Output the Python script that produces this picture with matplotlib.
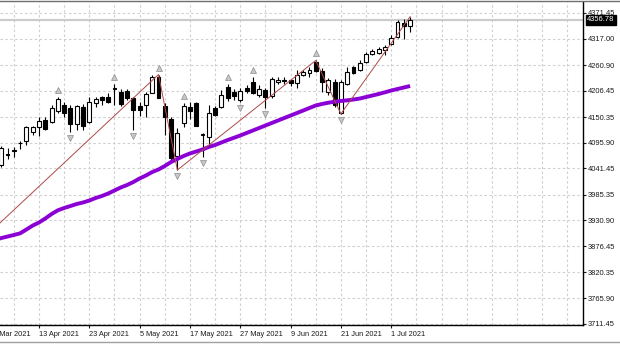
import matplotlib
matplotlib.use("Agg")
import matplotlib.pyplot as plt
import matplotlib.transforms as mtransforms
from matplotlib.lines import Line2D

plt.rcParams['font.family'] = ['Liberation Sans', 'DejaVu Sans']

# ---------------- data (bar index 0 = 13 Apr 2021) ----------------
bar_idx = list(range(-6, 60))
opens = [4048.6, 4072.0, 4079.4, 4094.3, 4099.6, 4119.3, 4129.9, 4144.2, 4140.6, 4163.3,
         4176.7, 4170.3, 4135.7, 4171.8, 4140.6, 4180.9, 4193.0, 4193.7, 4211.0, 4202.6,
         4205.8, 4189.9, 4173.9, 4176.7, 4202.2, 4236.1, 4173.9, 4145.7, 4067.7, 4138.4,
         4171.8, 4180.9, 4111.7, 4109.1, 4169.0, 4171.8, 4214.3, 4204.3, 4186.0, 4211.5,
         4224.3, 4197.9, 4207.9, 4195.2, 4225.5, 4228.1, 4228.1, 4222.1, 4239.8, 4244.0,
         4266.9, 4248.9, 4204.3, 4225.5, 4158.4, 4220.6, 4257.4, 4250.4, 4268.0, 4284.4,
         4285.9, 4293.5, 4305.6, 4320.5, 4350.8, 4343.4]
highs = [4089.0, 4084.7, 4086.8, 4099.6, 4132.1, 4132.1, 4149.5, 4151.6, 4176.0, 4192.4,
         4183.1, 4176.0, 4177.1, 4178.2, 4193.7, 4193.7, 4194.1, 4200.9, 4220.6, 4209.0,
         4209.4, 4193.7, 4183.1, 4202.6, 4239.8, 4240.8, 4179.7, 4151.6, 4127.2, 4180.3,
         4182.4, 4182.4, 4115.9, 4175.0, 4173.9, 4208.6, 4220.6, 4209.4, 4212.6, 4218.5,
         4235.5, 4218.5, 4211.5, 4235.5, 4234.9, 4236.1, 4232.3, 4250.4, 4251.4, 4255.7,
         4270.6, 4253.6, 4232.8, 4230.6, 4228.1, 4257.4, 4258.9, 4271.6, 4289.3, 4294.3,
         4299.9, 4303.5, 4324.7, 4356.5, 4358.7, 4363.6]
lows = [4044.4, 4061.3, 4065.6, 4082.6, 4091.1, 4112.3, 4110.2, 4122.9, 4138.4, 4159.0,
        4151.2, 4119.3, 4124.0, 4124.0, 4138.4, 4172.4, 4175.0, 4180.3, 4176.0, 4173.9,
        4186.7, 4124.0, 4152.7, 4149.5, 4200.9, 4190.3, 4112.3, 4056.0, 4038.0, 4129.3,
        4146.3, 4130.4, 4065.6, 4091.1, 4152.7, 4169.7, 4184.5, 4186.7, 4182.4, 4200.9,
        4199.4, 4193.7, 4170.7, 4190.9, 4220.6, 4220.6, 4216.4, 4211.5, 4237.6, 4236.2,
        4246.1, 4204.3, 4197.3, 4172.4, 4157.3, 4217.5, 4241.9, 4248.9, 4266.3, 4282.2,
        4284.4, 4282.2, 4303.5, 4318.4, 4315.2, 4331.8]
closes = [4084.1, 4070.9, 4080.5, 4096.4, 4129.3, 4129.9, 4142.1, 4126.1, 4169.0, 4188.2,
          4160.1, 4135.7, 4173.3, 4132.5, 4181.8, 4188.4, 4187.7, 4183.1, 4211.5, 4178.8,
          4190.9, 4165.4, 4165.4, 4199.4, 4234.9, 4191.3, 4151.6, 4063.5, 4115.9, 4173.9,
          4163.9, 4132.5, 4114.4, 4158.0, 4154.8, 4197.3, 4189.9, 4195.2, 4206.4, 4205.8,
          4200.9, 4209.4, 4192.4, 4230.6, 4229.1, 4227.7, 4223.4, 4239.8, 4246.8, 4250.4,
          4247.8, 4225.5, 4228.1, 4175.0, 4225.5, 4246.8, 4244.4, 4265.9, 4284.4, 4290.3,
          4294.3, 4299.9, 4319.4, 4352.9, 4343.8, 4356.78]

ma_idx = list(range(-7, 60))
ma_vals = [3889.3, 3893.5, 3896.7, 3900.0, 3903.5, 3911.6, 3920.0, 3926.5, 3935.0, 3944.5,
           3952.4, 3957.3, 3961.5, 3965.8, 3969.0, 3973.2, 3978.5, 3982.8, 3988.1, 3994.5,
           4000.9, 4006.1, 4012.5, 4020.0, 4026.3, 4033.7, 4039.1, 4046.5, 4055.0, 4061.4,
           4067.8, 4073.1, 4077.3, 4081.6, 4086.9, 4091.1, 4096.4, 4101.7, 4106.4, 4111.3,
           4116.6, 4121.9, 4127.2, 4132.5, 4137.8, 4143.1, 4148.4, 4153.7, 4159.0, 4164.3,
           4169.7, 4175.0, 4178.2, 4180.9, 4183.1, 4184.6, 4186.0, 4187.7, 4189.8, 4193.0,
           4196.2, 4199.4, 4203.0, 4206.8, 4210.0, 4213.2, 4216.4]

zz_idx = [-12, 19, 22, 44, 48, 59]
zz_vals = [3853.0, 4240.8, 4038.0, 4270.6, 4157.3, 4363.6]

frac_up_idx = [3, 12, 19, 23, 30, 34, 44]
frac_dn_idx = [5, 15, 22, 26, 32, 36, 48]

price_ticks = [4371.45, 4317.00, 4260.90, 4206.45, 4150.35, 4095.90, 4041.45,
               3985.35, 3930.90, 3876.45, 3820.35, 3765.90, 3711.45]
price_labels = ["4371.45", "4317.00", "4260.90", "4206.45", "4150.35", "4095.90", "4041.45",
                "3985.35", "3930.90", "3876.45", "3820.35", "3765.90", "3711.45"]

date_idx = [-8, 0, 8, 16, 24, 32, 40, 48, 56]
date_labels = ["31 Mar 2021", "13 Apr 2021", "23 Apr 2021", "5 May 2021", "17 May 2021",
               "27 May 2021", "9 Jun 2021", "21 Jun 2021", "1 Jul 2021"]

last_price = 4356.78

# ---------------- figure ----------------
W, H = 620, 345
fig = plt.figure(figsize=(W / 100, H / 100), dpi=100)
fig.patch.set_facecolor("white")
ax = fig.add_axes([0, 20 / H, 583 / W, 323 / H])
ax.set_facecolor("white")
ax.set_xlim(-6.2, 86.49)
ax.set_ylim(3708.8, 4394.8)

for s in ("left", "top"):
    ax.spines[s].set_visible(False)
for s in ("right", "bottom"):
    ax.spines[s].set_color("black")
    ax.spines[s].set_linewidth(1.0)

grid_kw = dict(color="#cfcfcf", lw=0.8, linestyle=(0, (2.2, 2.2)), zorder=0)
for p in price_ticks:
    ax.axhline(p, **grid_kw)
for gx in range(-4, 88, 4):
    ax.axvline(gx, **grid_kw)

# last price line
ax.axhline(last_price, color="#cccccc", lw=1.6, zorder=1)

# candles
tick_col = "#1a1a1a"
ax.vlines(bar_idx, lows, highs, color="black", lw=0.8, zorder=3)
bottoms = [min(o, c) for o, c in zip(opens, closes)]
heights = [max(abs(c - o), 0.4) for o, c in zip(opens, closes)]
faces = ["white" if c >= o else "black" for o, c in zip(opens, closes)]
ax.bar(bar_idx, heights, bottom=bottoms, width=0.62, color=faces,
       edgecolor="black", linewidth=0.8, zorder=4)

# moving average
ax.plot(ma_idx, ma_vals, color="#8b00d4", lw=2.8, zorder=5, solid_capstyle="butt")

# zigzag
ax.plot(zz_idx, zz_vals, color="#b04848", lw=0.7, zorder=6)

# fractals
hi_map = dict(zip(bar_idx, highs))
lo_map = dict(zip(bar_idx, lows))
up_tr = ax.transData + mtransforms.ScaledTranslation(0, 7 / 100, fig.dpi_scale_trans)
dn_tr = ax.transData + mtransforms.ScaledTranslation(0, -6 / 100, fig.dpi_scale_trans)
ax.plot(frac_up_idx, [hi_map[i] for i in frac_up_idx], linestyle="none", marker="^",
        ms=4.0, mfc="#c8c8c8", mec="#8c8c8c", mew=0.5, transform=up_tr, zorder=7)
ax.plot(frac_dn_idx, [lo_map[i] for i in frac_dn_idx], linestyle="none", marker="v",
        ms=4.0, mfc="#c8c8c8", mec="#8c8c8c", mew=0.5, transform=dn_tr, zorder=7)

# y axis on right
ax.yaxis.tick_right()
ax.set_yticks(price_ticks)
ax.set_yticklabels(price_labels)
ax.tick_params(axis="y", direction="out", length=2.5, width=0.8, pad=1.2,
               labelsize=5.4, colors=tick_col)

# x axis
ax.set_xticks(date_idx[1:])
ax.set_xticklabels(date_labels[1:])
ax.tick_params(axis="x", direction="out", length=2.5, width=0.8, pad=1.5,
               labelsize=5.3, colors=tick_col)
for lbl in ax.get_xticklabels():
    lbl.set_horizontalalignment("left")
ax.annotate(date_labels[0], xy=(date_idx[0], 0), xycoords=ax.get_xaxis_transform(),
            xytext=(0, -4.0), textcoords="offset points", ha="left", va="top",
            fontsize=5.3, color=tick_col, annotation_clip=False)

# current price box
ax.annotate(f"{last_price:.2f}", xy=(1, last_price), xycoords=ax.get_yaxis_transform(),
            xytext=(3.0, 0), textcoords="offset points", ha="left", va="center",
            fontsize=5.4, color="white", annotation_clip=False,
            bbox=dict(boxstyle="square,pad=0.15", fc="black", ec="black"))

# window frame lines
fig.add_artist(Line2D([0, 1], [1 - 0.6 / H, 1 - 0.6 / H], transform=fig.transFigure,
                      color="#6e6e6e", lw=1.0))
fig.add_artist(Line2D([0, 1], [3 / H, 3 / H], transform=fig.transFigure,
                      color="#a0a0a0", lw=1.0))

fig.savefig("out.png", dpi=100, facecolor="white")
